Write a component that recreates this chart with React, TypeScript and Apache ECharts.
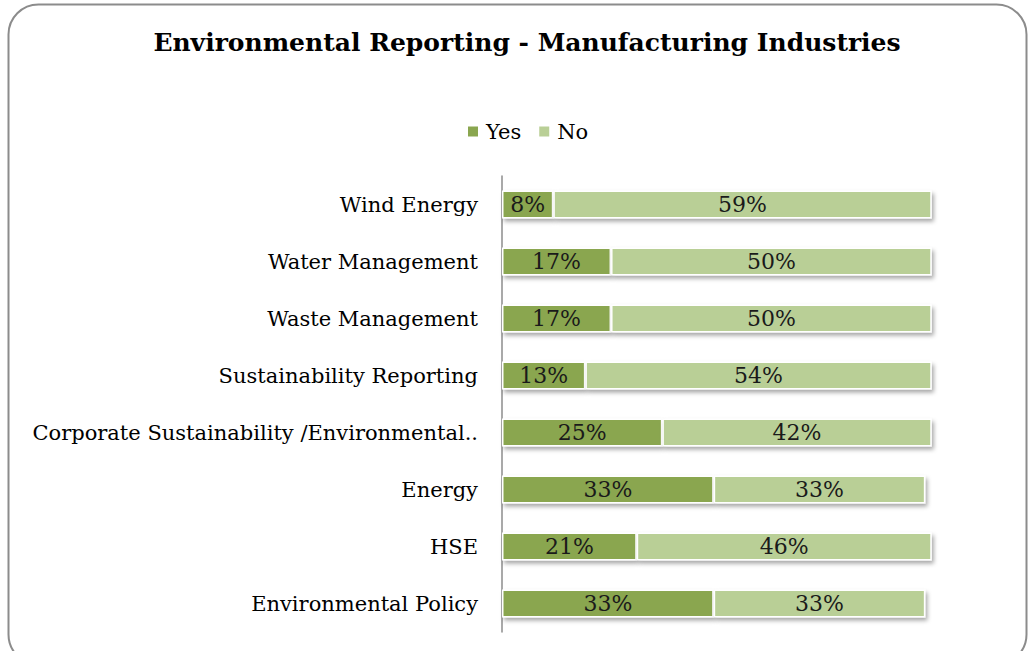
import React, { useEffect, useRef } from "react";
import * as echarts from "echarts";

const categories = [
  "Environmental Policy",
  "HSE",
  "Energy",
  "Corporate Sustainability /Environmental..",
  "Sustainability Reporting",
  "Waste Management",
  "Water Management",
  "Wind Energy",
];
const yesValues = [33, 21, 33, 25, 13, 17, 17, 8];
const noValues = [33, 46, 33, 42, 54, 50, 50, 59];
const seriesNames = ["Yes", "No"];

const FONT = "'DejaVu Serif', 'Liberation Serif', serif";

export default function App() {
  const ref = useRef<HTMLDivElement>(null);
  useEffect(() => {
    if (!ref.current) return;
    const chart = echarts.init(ref.current, undefined, { renderer: "svg" });
    const barStyle = (color: string) => ({
      color,
      borderColor: "#ffffff",
      borderWidth: 1.5,
      shadowBlur: 4,
      shadowColor: "rgba(0,0,0,0.35)",
      shadowOffsetX: 2,
      shadowOffsetY: 3,
    });
    const label = {
      show: true,
      position: "inside" as const,
      formatter: "{c}%",
      fontFamily: FONT,
      fontSize: 22,
      color: "#1a1a1a",
    };
    chart.setOption({
      animation: false,
      backgroundColor: "#ffffff",
      title: {
        text: "Environmental Reporting - Manufacturing Industries",
        left: 522,
        textAlign: "center",
        top: 25,
        textStyle: { fontFamily: FONT, fontSize: 25, fontWeight: "bold", color: "#000" },
      },
      legend: {
        data: seriesNames,
        left: 461,
        top: 116,
        itemWidth: 12,
        itemHeight: 12,
        itemGap: 16,
        icon: "rect",
        textStyle: { fontFamily: FONT, fontSize: 21, color: "#000", padding: [0, 0, 0, 2] },
      },
      graphic: [
        {
          type: "rect",
          shape: { x: 8.5, y: 4.5, width: 1018, height: 660, r: 30 },
          style: { fill: "none", stroke: "#8c8c8c", lineWidth: 2 },
          silent: true,
          z: -1,
        },
      ],
      grid: { left: 502, top: 176, width: 449, height: 456, containLabel: false },
      xAxis: { type: "value", min: 0, max: 70, show: false },
      yAxis: {
        type: "category",
        data: categories,
        axisLine: { show: true, lineStyle: { color: "#8c8c8c", width: 1.5 } },
        axisTick: { show: false },
        axisLabel: { fontFamily: FONT, fontSize: 21, color: "#000", margin: 24 },
      },
      series: [
        {
          name: "Yes",
          type: "bar",
          stack: "total",
          data: yesValues,
          barWidth: 28,
          itemStyle: barStyle("#8aa64f"),
          label,
        },
        {
          name: "No",
          type: "bar",
          stack: "total",
          data: noValues,
          barWidth: 28,
          itemStyle: barStyle("#b9cf96"),
          label,
        },
      ],
    });
    return () => chart.dispose();
  }, []);
  return (
    <div
      ref={ref}
      style={{ position: "fixed", left: 0, top: 0, width: 1029, height: 651 }}
    />
  );
}
